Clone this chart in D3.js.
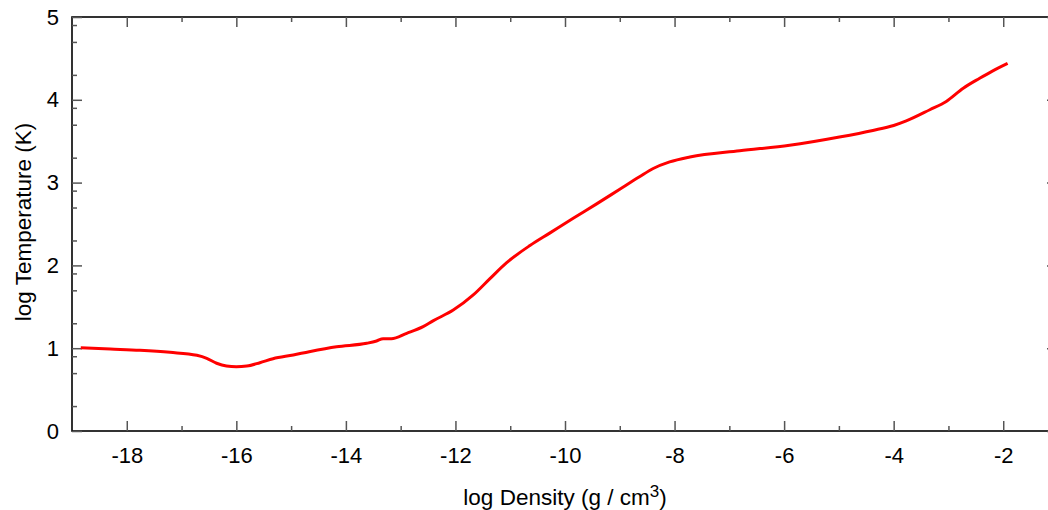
<!DOCTYPE html>
<html>
<head>
<meta charset="utf-8">
<script src="https://cdn.jsdelivr.net/npm/d3@7"></script>
<style>
  html, body { margin: 0; padding: 0; background: #fff; }
  svg { display: block; }
  text { font-family: "Liberation Sans", Arial, sans-serif; fill: #000; }
</style>
</head>
<body>
<svg id="chart" width="1048" height="510"></svg>
<script>
// Density–temperature track (log10 rho in g/cm^3, log10 T in K)
const logDensity = [-18.84, -18.3, -17.76, -17.21, -16.72, -16.54, -16.36, -16.18, -16.0, -15.81,
  -15.57, -15.33, -14.96, -14.67, -14.17, -13.62, -13.44, -13.32, -13.17, -12.89,
  -12.59, -12.41, -12.04, -11.68, -11.37, -11.07, -10.64, -10.28, -9.85, -9.43,
  -9.0, -8.64, -8.39, -8.09, -7.72, -6.81, -5.90, -4.99, -4.38, -4.0, -3.77,
  -3.34, -3.04, -2.73, -2.43, -2.19, -1.92];
const logTemperature = [1.005, 0.99, 0.975, 0.95, 0.914, 0.878, 0.818, 0.785, 0.777, 0.785,
  0.825, 0.873, 0.918, 0.958, 1.018, 1.059, 1.087, 1.115, 1.115, 1.18,
  1.26, 1.33, 1.46, 1.64, 1.84, 2.03, 2.24, 2.39, 2.57, 2.74,
  2.92, 3.07, 3.17, 3.25, 3.31, 3.385, 3.45, 3.55, 3.63, 3.69, 3.745,
  3.88, 3.98, 4.14, 4.26, 4.35, 4.44];

const xMajorTicks = [-18, -16, -14, -12, -10, -8, -6, -4, -2];
const xMinorTicks = [-17, -15, -13, -11, -9, -7, -5, -3];
const yMajorTicks = [0, 1, 2, 3, 4, 5];
const yMinorOffsets = [0.301, 0.699, 0.903];

const xDomain = [-19, -1];
const yDomain = [0, 5];

const svg = d3.select("#chart");
const plotLeft = 72, plotRight = 1058, plotTop = 17, plotBottom = 431;

const x = d3.scaleLinear().domain(xDomain).range([plotLeft, plotRight]);
const y = d3.scaleLinear().domain(yDomain).range([plotBottom, plotTop]);

const yMinorTicks = [];
yMajorTicks.slice(0, -1).forEach(v => yMinorOffsets.forEach(o => yMinorTicks.push(v + o)));

const tickColor = "#555";
const majorLen = 10, minorLen = 5;
const label = d => String(d);   // plain hyphen-minus, e.g. "-18"

// Frame
svg.append("rect")
  .attr("x", plotLeft).attr("y", plotTop)
  .attr("width", plotRight - plotLeft).attr("height", plotBottom - plotTop)
  .attr("fill", "none").attr("stroke", "#000").attr("stroke-width", 1.6);

// Bottom axis: inward ticks with labels
svg.append("g").attr("transform", `translate(0,${plotBottom})`)
  .call(d3.axisBottom(x).tickValues(xMajorTicks).tickSize(-majorLen).tickPadding(16).tickFormat(label));
svg.append("g").attr("transform", `translate(0,${plotBottom})`)
  .call(d3.axisBottom(x).tickValues(xMinorTicks).tickSize(-minorLen).tickFormat(""));

// Top axis: inward ticks, no labels
svg.append("g").attr("transform", `translate(0,${plotTop})`)
  .call(d3.axisTop(x).tickValues(xMajorTicks).tickSize(-majorLen).tickFormat(""));
svg.append("g").attr("transform", `translate(0,${plotTop})`)
  .call(d3.axisTop(x).tickValues(xMinorTicks).tickSize(-minorLen).tickFormat(""));

// Left axis
svg.append("g").attr("transform", `translate(${plotLeft},0)`)
  .call(d3.axisLeft(y).tickValues(yMajorTicks).tickSize(-majorLen).tickPadding(13).tickFormat(label));
svg.append("g").attr("transform", `translate(${plotLeft},0)`)
  .call(d3.axisLeft(y).tickValues(yMinorTicks).tickSize(-minorLen).tickFormat(""));

// Right axis
svg.append("g").attr("transform", `translate(${plotRight},0)`)
  .call(d3.axisRight(y).tickValues(yMajorTicks).tickSize(-(majorLen + 1)).tickFormat(""));
svg.append("g").attr("transform", `translate(${plotRight},0)`)
  .call(d3.axisRight(y).tickValues(yMinorTicks).tickSize(-minorLen).tickFormat(""));

svg.selectAll(".domain").remove();
svg.selectAll(".tick line").attr("stroke", tickColor).attr("stroke-width", 1.5);
svg.selectAll(".tick text").attr("font-size", 22).attr("font-family", "Liberation Sans, Arial, sans-serif").attr("fill", "#000");

// Axis titles
const xTitle = svg.append("text")
  .attr("x", (plotLeft + plotRight) / 2).attr("y", 505)
  .attr("text-anchor", "middle").attr("font-size", 22.5);
xTitle.append("tspan").text("log Density (g / cm");
xTitle.append("tspan").attr("dy", -8).attr("font-size", 17).text("3");
xTitle.append("tspan").attr("dy", 8).text(")");

svg.append("text")
  .attr("transform", `translate(31,${(plotTop + plotBottom) / 2 - 2}) rotate(-90)`)
  .attr("text-anchor", "middle").attr("font-size", 22.5)
  .text("log Temperature (K)");

// Track
const data = logDensity.map((d, i) => [d, logTemperature[i]]);
svg.append("path")
  .datum(data)
  .attr("fill", "none")
  .attr("stroke", "#ff0000")
  .attr("stroke-width", 3)
  .attr("stroke-linejoin", "round")
  .attr("d", d3.line().x(d => x(d[0])).y(d => y(d[1])).curve(d3.curveMonotoneX));
</script>
</body>
</html>
